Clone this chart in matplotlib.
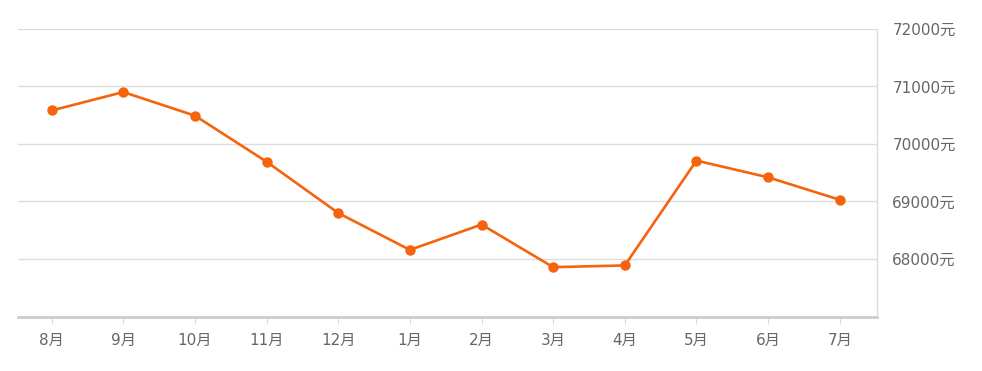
import matplotlib
matplotlib.use("Agg")
import matplotlib.pyplot as plt

plt.rcParams['font.family'] = ['DejaVu Sans', 'Noto Sans CJK SC']

months = ['8月', '9月', '10月', '11月', '12月', '1月', '2月', '3月', '4月', '5月', '6月', '7月']
prices = [70580, 70900, 70490, 69690, 68800, 68160, 68600, 67860, 67890, 69710, 69420, 69030]
y_ticks = [68000, 69000, 70000, 71000, 72000]
y_labels = ['%d元' % v for v in y_ticks]

fig = plt.figure(figsize=(9.82, 3.71), dpi=100)
ax = fig.add_axes([18 / 982, 1 - 316.7 / 371, (877 - 18) / 982, (316.7 - 28.7) / 371])

x = list(range(len(months)))
ax.plot(x, prices, color='#f5640c', lw=1.9, marker='o', ms=7.5,
        markeredgewidth=0, zorder=3)

ax.set_xlim(-0.47, len(months) - 0.48)
ax.set_ylim(67000, 72000)

ax.yaxis.tick_right()
ax.set_yticks(y_ticks)
ax.set_yticklabels(y_labels)
ax.tick_params(axis='y', length=0, pad=11, labelsize=11, labelcolor='#666666')
for lbl in ax.get_yticklabels():
    lbl.set_horizontalalignment('left')

ax.set_xticks(x)
ax.set_xticklabels(months)
ax.tick_params(axis='x', length=5, width=0.8, color='#dddddd', pad=7,
               labelsize=11, labelcolor='#666666')

ax.grid(axis='y', color='#dddddd', lw=1)
ax.set_axisbelow(True)

for s in ['top', 'left']:
    ax.spines[s].set_visible(False)
ax.spines['right'].set_color('#dddddd')
ax.spines['right'].set_linewidth(1)
ax.spines['bottom'].set_color('#cccccc')
ax.spines['bottom'].set_linewidth(2)

fig.savefig('out.png', dpi=100)
